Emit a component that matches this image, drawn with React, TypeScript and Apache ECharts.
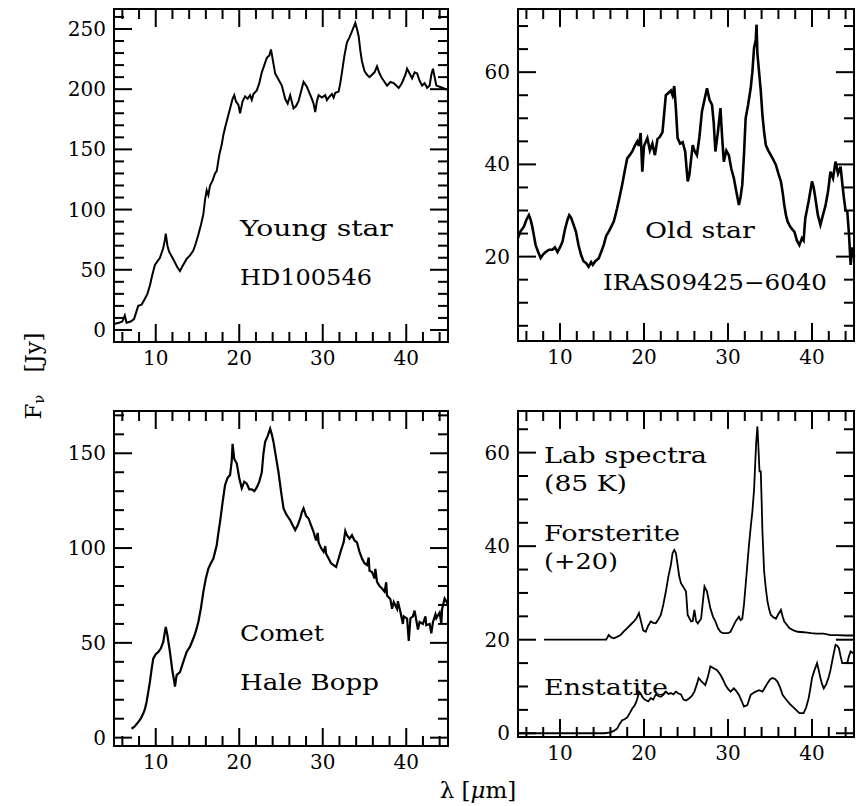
import React, { useEffect, useRef } from "react";
import * as echarts from "echarts";

// ---------- data (wavelength in micron, flux in Jy) ----------
const youngStar: [number, number][] = [
  [5.0, 5], [5.6, 6], [6.0, 7], [6.3, 12], [6.5, 6], [7.0, 7], [7.4, 9], [7.9, 20], [8.3, 21], [8.7, 26],
  [9.0, 30], [9.3, 37], [9.6, 46], [9.9, 54], [10.2, 57], [10.5, 60], [10.9, 68], [11.1, 75], [11.2, 80], [11.4, 70],
  [11.6, 65], [12.0, 60], [12.3, 56], [12.6, 52], [12.9, 49], [13.2, 53], [13.7, 59], [14.1, 62], [14.5, 66], [14.8, 72],
  [15.1, 79], [15.4, 87], [15.7, 96], [15.9, 108], [16.1, 116], [16.3, 112], [16.5, 120], [16.8, 124], [17.1, 130], [17.3, 132],
  [17.6, 145], [17.9, 154], [18.1, 162], [18.3, 168], [18.6, 176], [18.9, 184], [19.2, 192], [19.4, 195], [19.6, 190], [19.9, 187],
  [20.1, 180], [20.4, 190], [20.7, 194], [21.0, 192], [21.3, 195], [21.5, 191], [21.7, 196], [22.1, 199], [22.4, 205], [22.7, 214], [23.0, 220],
  [23.3, 226], [23.6, 228], [23.8, 233], [24.0, 225], [24.3, 213], [24.7, 208], [25.1, 203], [25.5, 192], [25.8, 188], [26.1, 195],
  [26.5, 184], [26.8, 186], [27.1, 190], [27.4, 198], [27.7, 206], [28.1, 202], [28.4, 197], [28.7, 192], [28.9, 188], [29.1, 181],
  [29.3, 190], [29.5, 195], [29.9, 193], [30.3, 195], [30.5, 191], [30.7, 193], [31.1, 196], [31.3, 193], [31.5, 197], [31.9, 198], [32.1, 205], [32.3, 214],
  [32.6, 228], [32.9, 239], [33.2, 243], [33.5, 248], [33.9, 255], [34.1, 250], [34.3, 244], [34.5, 232], [34.7, 223], [35.0, 215],
  [35.3, 212], [35.6, 210], [35.9, 212], [36.2, 214], [36.5, 219], [36.8, 213], [37.1, 209], [37.4, 206], [37.7, 203], [38.1, 206],
  [38.5, 205], [38.8, 203], [39.1, 201], [39.4, 204], [39.6, 207], [39.9, 212], [40.1, 217], [40.4, 213], [40.7, 209], [41.0, 214],
  [41.3, 213], [41.6, 207], [41.9, 203], [42.2, 205], [42.5, 201], [42.8, 203], [43.0, 212], [43.2, 217], [43.4, 210], [43.6, 203],
  [44.0, 202], [44.4, 201], [44.7, 200], [45.0, 200],
];

const oldStar: [number, number][] = [
  [5.0, 24], [5.3, 25.5], [5.7, 26.5], [6.0, 28], [6.3, 29], [6.5, 28], [6.7, 26.5], [6.9, 24.5], [7.1, 22.5], [7.4, 21],
  [7.7, 19.7], [8.0, 20.5], [8.3, 21], [8.7, 21.5], [9.1, 21.5], [9.4, 22], [9.7, 21], [10.0, 22], [10.3, 23.3], [10.6, 26],
  [10.9, 28], [11.1, 29], [11.3, 28.5], [11.6, 27], [11.9, 25.4], [12.2, 22.5], [12.5, 20.4], [12.8, 19], [13.1, 18.6], [13.4, 17.8],
  [13.7, 18.8], [13.9, 18.2], [14.2, 19], [14.6, 19.6], [14.9, 21], [15.2, 22.5], [15.5, 24.5], [15.8, 25.4], [16.1, 26.5], [16.4, 27.6],
  [16.6, 29], [16.8, 30.5], [17.1, 33], [17.4, 35.6], [17.7, 38.5], [18.0, 41.3], [18.3, 42], [18.6, 42.8], [18.9, 44], [19.2, 45],
  [19.4, 44], [19.6, 46.8], [19.8, 38.4], [20.0, 44], [20.4, 45.7], [20.7, 43], [21.0, 44.5], [21.3, 42], [21.6, 45.5], [21.9, 46],
  [22.2, 47], [22.4, 51], [22.6, 55], [22.9, 55.5], [23.2, 56], [23.4, 55], [23.6, 57], [23.8, 52], [24.0, 45.7], [24.3, 44.5],
  [24.6, 44.8], [24.9, 42.8], [25.2, 36.3], [25.4, 37.7], [25.6, 41], [25.8, 44.2], [26.0, 43], [26.3, 42], [26.6, 46], [26.9, 51.5],
  [27.2, 54], [27.5, 56.5], [27.8, 54], [28.1, 52.9], [28.3, 49], [28.5, 42.8], [28.8, 47], [29.1, 52.2], [29.3, 46], [29.5, 40.6],
  [29.8, 43], [30.1, 42], [30.4, 39], [30.7, 37], [31.0, 34], [31.3, 31.2], [31.5, 33], [31.7, 35.6], [31.9, 42], [32.1, 50],
  [32.4, 53], [32.7, 56.5], [32.9, 60], [33.1, 65.2], [33.3, 67], [33.4, 70.3], [33.5, 64], [33.7, 60], [33.9, 56], [34.1, 50.7],
  [34.3, 47], [34.5, 44.2], [34.8, 43], [35.1, 42], [35.4, 41], [35.7, 39.9], [36.0, 38], [36.3, 36.3], [36.5, 34], [36.7, 31.2],
  [36.9, 29], [37.1, 27.6], [37.4, 26.5], [37.7, 25.8], [37.9, 25.4], [38.2, 23.5], [38.5, 22.5], [38.8, 24], [39.0, 23.5], [39.2, 28.3],
  [39.6, 32], [40.0, 36.3], [40.2, 35], [40.4, 32.7], [40.7, 29], [41.0, 26.9], [41.3, 29], [41.6, 31], [41.9, 34], [42.2, 38.4],
  [42.5, 37], [42.8, 40.6], [43.1, 38], [43.4, 39.5], [43.6, 36], [43.8, 32.7], [44.0, 30], [44.2, 29.8], [44.4, 25], [44.6, 18.2],
  [44.8, 22], [45.0, 20],
];

const comet: [number, number][] = [
  [7.1, 4.7], [7.5, 6], [7.9, 8.2], [8.2, 10], [8.5, 12.7], [8.7, 15], [8.9, 18.8], [9.1, 24], [9.3, 29.4], [9.5, 36],
  [9.7, 41.7], [10.0, 44], [10.3, 45.2], [10.6, 47], [10.9, 50.5], [11.1, 56], [11.2, 58.4], [11.4, 54], [11.7, 45.2], [12.0, 35],
  [12.2, 30], [12.3, 27], [12.5, 33], [12.9, 34.6], [13.3, 40], [13.7, 45.2], [14.1, 48], [14.5, 52.3], [14.8, 56], [15.1, 61],
  [15.4, 68], [15.7, 76.9], [16.0, 84], [16.3, 89.2], [16.6, 92], [16.9, 94.5], [17.1, 98], [17.3, 101.5], [17.5, 108], [17.7, 113.8],
  [18.0, 124], [18.3, 133.2], [18.6, 137], [18.9, 138.5], [19.1, 146], [19.2, 155], [19.4, 147], [19.7, 144.7], [20.0, 137], [20.3, 131.5],
  [20.6, 135], [20.9, 134], [21.2, 131], [21.5, 131], [21.8, 130], [22.1, 132], [22.4, 135], [22.7, 140], [22.9, 150], [23.1, 156],
  [23.4, 159], [23.7, 163], [23.9, 160], [24.1, 156], [24.4, 148], [24.7, 140], [25.0, 130], [25.3, 121], [25.6, 118], [26.1, 114.7],
  [26.4, 112], [26.7, 109.5], [27.0, 112], [27.3, 115.6], [27.5, 119], [27.7, 121], [28.0, 117], [28.3, 115.6], [28.6, 112], [28.9, 108.5],
  [29.2, 104], [29.4, 108], [29.5, 103], [29.8, 100], [30.1, 98], [30.3, 101], [30.4, 97], [30.7, 94.5], [31.0, 92], [31.3, 91], [31.6, 90], [31.9, 94.5],
  [32.2, 99], [32.5, 103], [32.7, 109], [32.9, 106.8], [33.2, 105], [33.5, 106.8], [33.8, 104], [34.1, 103], [34.4, 98], [34.7, 94.5], [35.0, 92],
  [35.3, 91], [35.5, 95], [35.6, 88], [35.9, 87.4], [36.2, 84], [36.3, 89], [36.5, 82.2], [36.8, 80], [37.1, 78.7], [37.4, 77], [37.6, 82], [37.7, 75], [38.1, 73],
  [38.3, 68], [38.5, 71.6], [38.9, 68], [39.0, 72], [39.3, 66.3], [39.6, 60], [39.7, 64], [40.1, 62.8], [40.3, 51], [40.5, 63], [40.8, 64], [41.0, 67], [41.2, 62], [41.4, 57], [41.6, 61],
  [42.0, 60], [42.3, 64], [42.4, 59.3], [42.8, 60], [43.0, 55], [43.2, 61], [43.5, 65], [43.6, 63], [44.0, 66], [44.2, 60], [44.3, 68], [44.6, 73.4], [44.8, 72], [45.0, 70],
];

const forsterite: [number, number][] = [
  [8.1, 20], [15.5, 20], [15.8, 21], [16.1, 20.5], [16.4, 20.3], [16.8, 20.6], [17.2, 21], [17.6, 21.8], [18.0, 22.5], [18.4, 23.2],
  [18.8, 23.9], [19.1, 24.6], [19.4, 25.7], [19.7, 23.5], [19.9, 22], [20.2, 21.7], [20.5, 23], [20.8, 23.9], [21.1, 23.6], [21.4, 23.5],
  [21.7, 24.3], [22.0, 25.3], [22.3, 27.5], [22.6, 30.3], [22.9, 33.5], [23.2, 36], [23.4, 38.5], [23.6, 39.2], [23.8, 38.5], [24.0, 36],
  [24.2, 33.5], [24.4, 32.1], [24.7, 31.2], [25.0, 30.3], [25.2, 25.3], [25.6, 23.9], [25.8, 24], [26.0, 26.4], [26.2, 24], [26.4, 23.5],
  [26.8, 24.5], [27.0, 28], [27.2, 31.4], [27.5, 30.3], [27.7, 28.5], [27.9, 26.7], [28.2, 25], [28.5, 23.9], [28.8, 22.5], [29.1, 21.7],
  [29.4, 21.4], [29.7, 21.4], [30.0, 21.4], [30.3, 21.7], [30.6, 22.8], [30.9, 23.9], [31.3, 24.9], [31.5, 24.2], [31.7, 24.5], [31.9, 27.5],
  [32.1, 31.7], [32.3, 36], [32.5, 40.3], [32.7, 44], [32.9, 47.4], [33.1, 52], [33.2, 56], [33.35, 62], [33.5, 65.6], [33.6, 62],
  [33.75, 56], [33.9, 56], [34.0, 50], [34.1, 43.1], [34.3, 34.6], [34.5, 31], [34.7, 28.2], [34.9, 26.5], [35.1, 25.3], [35.4, 24.8],
  [35.7, 24.5], [36.0, 25.5], [36.3, 26.4], [36.5, 25], [36.7, 23.9], [37.0, 23.2], [37.3, 22.5], [37.8, 22], [38.3, 21.7], [39.0, 21.6],
  [39.9, 21.4], [40.5, 21.3], [41.4, 21.3], [42.2, 21], [43.0, 21], [44.0, 20.9], [45.0, 20.9],
];

const enstatite: [number, number][] = [
  [5.0, 0], [15.3, 0], [16.0, 0.2], [16.4, 0.5], [16.8, 1], [17.1, 2], [17.4, 2.8], [17.7, 3], [18.0, 3.4], [18.3, 4.3],
  [18.6, 5.3], [18.9, 6], [19.1, 6.8], [19.3, 8], [19.4, 8.9], [19.6, 8.5], [19.8, 7.8], [20.0, 7.3], [20.2, 7.1], [20.5, 6.8],
  [20.8, 7.5], [21.1, 7.2], [21.4, 8.3], [21.7, 8], [22.0, 7.8], [22.3, 8.2], [22.6, 8.9], [22.9, 8.4], [23.2, 8.6], [23.5, 8.3],
  [23.8, 8.9], [24.1, 8.5], [24.4, 8.3], [24.7, 7.2], [25.0, 7.0], [25.4, 7.5], [25.7, 8], [26.0, 8.9], [26.3, 10.5], [26.5, 11.8],
  [26.9, 11], [27.3, 10.3], [27.6, 12], [27.9, 14.3], [28.3, 13.9], [28.7, 13.5], [29.1, 12.5], [29.4, 11.5], [29.7, 10.3], [30.0, 9.5],
  [30.3, 8.9], [30.7, 9.6], [31.0, 9], [31.3, 8.2], [31.6, 7], [31.9, 5.7], [32.3, 6], [32.7, 8.2], [33.0, 8.6], [33.3, 8.9],
  [33.7, 9.2], [34.1, 8.9], [34.4, 9.8], [34.7, 10.7], [35.0, 11.5], [35.3, 11.8], [35.6, 11.6], [35.9, 11], [36.2, 9.8], [36.5, 8.2],
  [36.8, 7.5], [37.1, 6.8], [37.4, 6.2], [37.7, 5.7], [38.1, 5], [38.5, 4.3], [39.0, 4.3], [39.3, 5.5], [39.6, 7.5], [39.8, 9.5],
  [40.0, 11.8], [40.3, 13.5], [40.6, 15], [40.8, 13.5], [41.0, 11.8], [41.2, 10.5], [41.4, 9.6], [41.7, 10.5], [42.0, 12.1], [42.2, 13.5],
  [42.4, 15.4], [42.6, 17.2], [42.8, 18.9], [43.0, 18.7], [43.2, 18.2], [43.4, 16.5], [43.6, 15], [44.0, 15], [44.2, 15], [44.4, 16.5],
  [44.6, 17.5], [45.0, 17],
];

// ---------- tick labels ----------
const xTicks = [10, 20, 30, 40];
const xMinorTicks = [6, 8, 12, 14, 16, 18, 22, 24, 26, 28, 32, 34, 36, 38, 42, 44];
const yTicksYoung = [0, 50, 100, 150, 200, 250];
const yTicksOld = [20, 40, 60];
const yTicksComet = [0, 50, 100, 150];
const yTicksLab = [0, 20, 40, 60];

const FONT = "DejaVu Serif";
const X_MIN = 5;
const X_MAX = 45;

function minorTicks(min: number, max: number, step: number, major: number[]) {
  const out: number[] = [];
  const start = Math.ceil(min / step) * step;
  for (let v = start; v <= max + 1e-9; v += step) {
    const r = +v.toFixed(4);
    if (!major.some((m) => Math.abs(m - r) < 1e-6)) out.push(r);
  }
  return out;
}

const panels = [
  { grid: { left: 114, top: 9, width: 334, height: 333 }, yMin: -10, yMax: 266.6, yMajor: yTicksYoung, yStep: 10, series: [youngStar], width: 2 },
  { grid: { left: 518, top: 9, width: 336, height: 332 }, yMin: 1.7, yMax: 73.7, yMajor: yTicksOld, yStep: 5, series: [oldStar], width: 2.6 },
  { grid: { left: 114, top: 411, width: 334, height: 335 }, yMin: -4.4, yMax: 172.3, yMajor: yTicksComet, yStep: 10, series: [comet], width: 2.2 },
  { grid: { left: 518, top: 411, width: 336, height: 326 }, yMin: -0.8, yMax: 68.9, yMajor: yTicksLab, yStep: 5, series: [forsterite, enstatite], width: 1.8 },
];

const annotations = [
  { text: "Young star", x: 240, y: 228, w: 153 },
  { text: "HD100546", x: 240, y: 277, w: 132 },
  { text: "Old star", x: 645, y: 230, w: 110 },
  { text: "IRAS09425\u22126040", x: 603, y: 282, w: 224 },
  { text: "Comet", x: 240, y: 634, w: 84 },
  { text: "Hale Bopp", x: 240, y: 683, w: 139 },
  { text: "Lab spectra", x: 544, y: 455, w: 163 },
  { text: "(85 K)", x: 544, y: 483, w: 83 },
  { text: "Forsterite", x: 544, y: 533, w: 136 },
  { text: "(+20)", x: 544, y: 562, w: 74 },
  { text: "Enstatite", x: 544, y: 687, w: 124 },
];

const MAJOR_LEN = 18;
const MINOR_LEN = 10;

export default function App() {
  const ref = useRef<HTMLDivElement>(null);

  useEffect(() => {
    if (!ref.current) return;
    const chart = echarts.init(ref.current, undefined, { renderer: "svg" });

    const canvas = document.createElement("canvas");
    const ctx = canvas.getContext("2d");
    const annFont = `22px "${FONT}"`;
    const measure = (t: string) => {
      if (!ctx) return 0;
      ctx.font = annFont;
      return ctx.measureText(t).width;
    };

    const black = "#000";
    const xAxis: any[] = [];
    const yAxis: any[] = [];
    const series: any[] = [];

    panels.forEach((p, i) => {
      const yMinor = minorTicks(p.yMin, p.yMax, p.yStep, p.yMajor);
      xAxis.push({
        gridIndex: i, type: "value", min: X_MIN, max: X_MAX, position: "bottom",
        splitLine: { show: false },
        axisLine: { show: false, onZero: false },
        axisTick: { show: false },
        axisLabel: { show: true, customValues: xTicks, color: black, fontFamily: FONT, fontSize: 20, margin: 6 },
      });
      yAxis.push({
        gridIndex: i, type: "value", min: p.yMin, max: p.yMax, position: "left",
        splitLine: { show: false },
        axisLine: { show: false, onZero: false },
        axisTick: { show: false },
        axisLabel: { show: true, customValues: p.yMajor, color: black, fontFamily: FONT, fontSize: 20, margin: 8 },
      });

      // tick marks on all four sides, placed through the axis scales
      const tickData: number[][] = [
        ...xTicks.map((v) => [v, p.yMin, 0, MAJOR_LEN]),
        ...xMinorTicks.map((v) => [v, p.yMin, 0, MINOR_LEN]),
        ...p.yMajor.map((v) => [X_MIN, v, 1, MAJOR_LEN]),
        ...yMinor.map((v) => [X_MIN, v, 1, MINOR_LEN]),
      ];
      series.push({
        type: "custom",
        xAxisIndex: i,
        yAxisIndex: i,
        silent: true,
        clip: false,
        z: 5,
        encode: { x: 0, y: 1 },
        data: tickData,
        renderItem: (params: any, api: any) => {
          const cs = params.coordSys;
          const kind = api.value(2);
          const len = api.value(3);
          const style = { stroke: black, lineWidth: 2 };
          if (kind === 0) {
            const px = api.coord([api.value(0), p.yMin])[0];
            return {
              type: "group",
              children: [
                { type: "line", shape: { x1: px, y1: cs.y + cs.height, x2: px, y2: cs.y + cs.height - len }, style },
                { type: "line", shape: { x1: px, y1: cs.y, x2: px, y2: cs.y + len }, style },
              ],
            };
          }
          const py = api.coord([X_MIN, api.value(1)])[1];
          return {
            type: "group",
            children: [
              { type: "line", shape: { x1: cs.x, y1: py, x2: cs.x + len, y2: py }, style },
              { type: "line", shape: { x1: cs.x + cs.width, y1: py, x2: cs.x + cs.width - len, y2: py }, style },
            ],
          };
        },
      });

      p.series.forEach((d) => {
        series.push({
          type: "line",
          xAxisIndex: i,
          yAxisIndex: i,
          data: d,
          showSymbol: false,
          symbol: "none",
          clip: true,
          z: 3,
          lineStyle: { color: black, width: p.width, join: "miter" },
        });
      });
    });

    const elements: any[] = annotations.map((a) => {
      const m = measure(a.text);
      const sx = m > 0 ? a.w / m : 1;
      return {
        type: "text",
        x: a.x,
        y: a.y,
        scaleX: sx,
        style: { text: a.text, font: annFont, fill: black, align: "left", verticalAlign: "middle" },
      };
    });

    elements.push({
      type: "text",
      x: 478,
      y: 790,
      style: {
        text: "{n|\u03bb [}{i|\u03bc}{n|m]}",
        align: "center",
        verticalAlign: "middle",
        fill: black,
        rich: {
          n: { fontFamily: FONT, fontSize: 23, fill: black },
          i: { fontFamily: FONT, fontSize: 23, fontStyle: "italic", fill: black },
        },
      },
    });

    elements.push({
      type: "text",
      x: 33,
      y: 376,
      rotation: Math.PI / 2,
      style: {
        text: "{n|F}{s|\u03bd}{n|   [Jy]}",
        align: "center",
        verticalAlign: "middle",
        fill: black,
        rich: {
          n: { fontFamily: FONT, fontSize: 23, fill: black },
          s: { fontFamily: FONT, fontSize: 15, fill: black, padding: [12, 0, 0, 0] },
        },
      },
    });

    chart.setOption({
      animation: false,
      backgroundColor: "#fff",
      grid: panels.map((p) => ({
        ...p.grid,
        show: true,
        borderColor: black,
        borderWidth: 2,
        backgroundColor: "transparent",
        containLabel: false,
        outerBoundsMode: "none",
      })),
      xAxis,
      yAxis,
      series,
      graphic: { elements },
    });

    return () => chart.dispose();
  }, []);

  return (
    <div
      ref={ref}
      style={{ position: "fixed", left: 0, top: 0, width: 860, height: 806, background: "#fff" }}
    />
  );
}
